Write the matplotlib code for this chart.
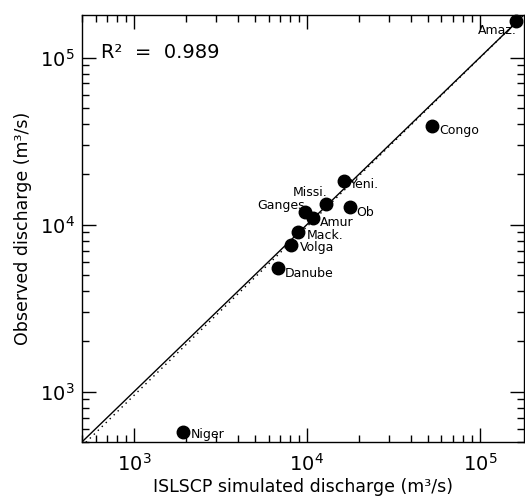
import matplotlib
matplotlib.use('Agg')
import matplotlib.pyplot as plt
import numpy as np

# River discharge, simulated vs observed (m3/s)
rivers = ['Amaz.', 'Congo', 'Yeni.', 'Missi.', 'Ob', 'Ganges', 'Amur',
          'Mack.', 'Volga', 'Danube', 'Niger']
simulated = [163000, 52800, 16500, 12900, 17700, 9700, 10800,
             8910, 8120, 6830, 1930]
observed = [165000, 38800, 18300, 13350, 12700, 11900, 10900,
            9080, 7590, 5480, 575]
# label offsets (points) and alignment
label_off = {
    'Amaz.': (0, -7, 'right'), 'Congo': (5, -3, 'left'), 'Yeni.': (4, -3, 'left'),
    'Missi.': (1, 8, 'right'), 'Ob': (5, -4, 'left'), 'Ganges': (0, 5, 'right'),
    'Amur': (5, -3, 'left'), 'Mack.': (6, -3, 'left'), 'Volga': (6, -2, 'left'),
    'Danube': (5, -4, 'left'), 'Niger': (5, -2, 'left'),
}
r2_text = 'R²  =  0.989'
# regression fit in log space (dotted line)
fit_slope = 1.01
fit_pivot = 5.22

lim = (500, 1.8e5)

fig = plt.figure(figsize=(5.25, 4.99), dpi=100)
ax = fig.add_axes([0.156, 0.1142, 0.842, 0.856])

xx = np.logspace(np.log10(lim[0]), np.log10(lim[1]), 50)
ax.plot(xx, xx, color='k', lw=1)
ax.plot(xx, 10 ** (fit_pivot + fit_slope * (np.log10(xx) - fit_pivot)),
        color='k', lw=1, linestyle=(0, (1, 3)))

ax.plot(simulated, observed, 'o', color='k', markersize=9, clip_on=False, zorder=3)
for name, xs, yo in zip(rivers, simulated, observed):
    dx, dy, ha = label_off[name]
    ax.annotate(name, (xs, yo), xytext=(dx, dy), textcoords='offset points',
                ha=ha, va='center', fontsize=9)

ax.text(0.043, 0.913, r2_text, transform=ax.transAxes, fontsize=14, va='center')

ax.set_xscale('log')
ax.set_yscale('log')
ax.set_xlim(lim)
ax.set_ylim(lim)
ax.tick_params(which='both', direction='in', top=True, right=True, width=1)
ax.tick_params(which='major', length=10, labelsize=14, pad=8)
ax.tick_params(which='minor', length=5)
ax.tick_params(axis='y', which='major', pad=5)
for s in ax.spines.values():
    s.set_linewidth(1)

ax.set_xlabel('ISLSCP simulated discharge (m³/s)', fontsize=12.5, labelpad=2)
ax.set_ylabel('Observed discharge (m³/s)', fontsize=12.5, labelpad=6)

fig.savefig('out.png', dpi=100)
